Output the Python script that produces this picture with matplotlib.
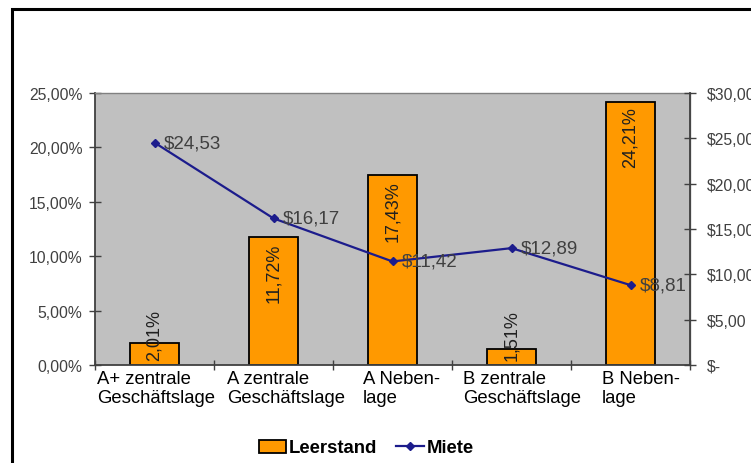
import matplotlib
matplotlib.use("Agg")
import matplotlib.pyplot as plt
from matplotlib.patches import Rectangle
from matplotlib.lines import Line2D
from matplotlib.ticker import FuncFormatter, MultipleLocator
import numpy as np

plt.rcParams['font.family'] = ['Liberation Sans', 'DejaVu Sans']

categories = ["A+ zentrale\nGeschäftslage", "A zentrale\nGeschäftslage", "A Neben-\nlage",
              "B zentrale\nGeschäftslage", "B Neben-\nlage"]
leerstand = [2.01, 11.72, 17.43, 1.51, 24.21]      # vacancy in %
miete = [24.53, 16.17, 11.42, 12.89, 8.81]         # rent in $
label_shift = [-0.48, -0.39, -0.25, -0.41, -0.24]  # left edge of category labels

fig = plt.figure(figsize=(7.51, 4.64), dpi=100)
fig.patch.set_facecolor("white")
ax = fig.add_axes([95/751, 98/464, 595/751, 272/464])
ax.set_facecolor("#C0C0C0")

x = np.arange(len(categories))
bars = ax.bar(x, leerstand, width=0.42, color="#FF9900", edgecolor="black", linewidth=1.3, zorder=2)
ax.set_xlim(-0.5, len(categories) - 0.5)
ax.set_ylim(0, 25)
ax.yaxis.set_major_locator(MultipleLocator(5))
ax.yaxis.set_major_formatter(FuncFormatter(lambda v, p: f"{v:.2f}%".replace(".", ",")))

ax.set_xticks(np.arange(len(categories) + 1) - 0.5)
ax.set_xticklabels([])
ax.tick_params(axis="x", direction="inout", length=7, width=1, color="#404040")
ax.tick_params(axis="y", direction="inout", length=8, width=1, color="#404040",
               labelsize=11.3, labelcolor="#404040", pad=5)

for s in ["left", "bottom"]:
    ax.spines[s].set_color("#404040")
    ax.spines[s].set_linewidth(1.3)
for s in ["top", "right"]:
    ax.spines[s].set_color("#808080")
    ax.spines[s].set_linewidth(1.0)

# category labels below the axis
for i, (lab, dx) in enumerate(zip(categories, label_shift)):
    ax.annotate(lab, xy=(i + dx, 0), xycoords=("data", "axes fraction"),
                xytext=(0, -3.5), textcoords="offset points", ha="left", va="top",
                fontsize=13.3, color="black", linespacing=1.2)

# vacancy labels inside the bars
for i, v in enumerate(leerstand):
    txt = f"{v:.2f}%".replace(".", ",")
    if v > 6:
        ax.annotate(txt, xy=(i, v), xytext=(0, -3.5), textcoords="offset points",
                    rotation=90, ha="center", va="top", fontsize=13, color="#202020", zorder=4)
    else:
        ax.annotate(txt, xy=(i, 0), xytext=(0, 3.5), textcoords="offset points",
                    rotation=90, ha="center", va="bottom", fontsize=13, color="#202020", zorder=4)

ax2 = ax.twinx()
ax2.set_ylim(0, 30)
ax2.yaxis.set_major_locator(MultipleLocator(5))
ax2.yaxis.set_major_formatter(FuncFormatter(lambda v, p: "$-" if v == 0 else f"${v:.2f}".replace(".", ",")))
ax2.tick_params(axis="y", direction="inout", length=8, width=1, color="#404040",
                labelsize=11.3, labelcolor="#404040", pad=8)
for s in ax2.spines.values():
    s.set_visible(False)
ax2.spines["right"].set_visible(True)
ax2.spines["right"].set_color("#404040")
ax2.spines["right"].set_linewidth(1.3)

ax2.plot(x, miete, color="#1C1C8C", linewidth=1.6, marker="D", markersize=4.5,
         markerfacecolor="#1C1C8C", markeredgecolor="#1C1C8C", zorder=3)
for i, m in enumerate(miete):
    ax2.annotate(f"${m:.2f}".replace(".", ","), xy=(i, m), xytext=(7, 0),
                 textcoords="offset points", ha="left", va="center",
                 fontsize=13.5, color="#404040", zorder=5)

# outer frame
fig.add_artist(Rectangle((12/751, -0.2), 1.2, (454/464) + 0.2, transform=fig.transFigure,
                         fill=False, edgecolor="black", linewidth=2.2, clip_on=False))

handles = [Rectangle((0, 0), 1, 1, facecolor="#FF9900", edgecolor="black", linewidth=1.3),
           Line2D([0], [0], color="#1C1C8C", linewidth=1.6, marker="D", markersize=4.5)]
fig.legend(handles, ["Leerstand", "Miete"], loc="center", bbox_to_anchor=(366/751, 15/464),
           ncol=2, frameon=False, prop={"weight": "bold", "size": 13.3},
           handlelength=1.5, handletextpad=0.15, columnspacing=1.0)

fig.savefig("out.png", dpi=100)
